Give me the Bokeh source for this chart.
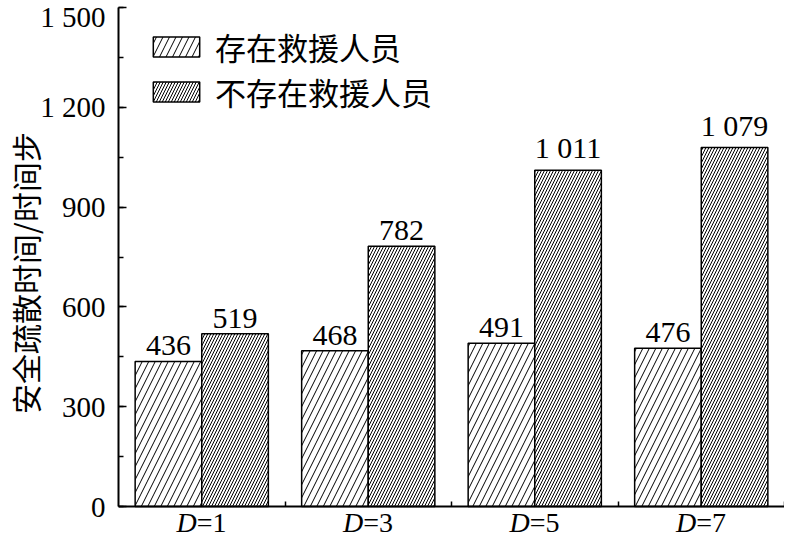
import numpy as np
from bokeh.plotting import figure
from bokeh.models import Range1d, FixedTicker, SingleIntervalTicker, ColumnDataSource
from bokeh.embed import file_html
from bokeh.resources import INLINE
from bokeh.core.properties import value

categories = ["D=1", "D=3", "D=5", "D=7"]
cat_var = ["D", "D", "D", "D"]
cat_val = ["=1", "=3", "=5", "=7"]
with_rescue = [436, 468, 491, 476]
without_rescue = [519, 782, 1011, 1079]
series_names = ["存在救援人员", "不存在救援人员"]
y_ticks = [0, 300, 600, 900, 1200, 1500]
y_tick_labels = ["0", "300", "600", "900", "1 200", "1 500"]
y_title = "安全疏散时间/时间步"

SERIF = "Liberation Serif"
CJK = "Noto Sans CJK SC"
W, H = 784, 541
LEFT = 115
FRAME_TOP = 7          # px from top where y = max
ZERO_Y = 506           # px from top where y = 0
BOTTOM_BORDER = 3
FRAME_BOTTOM = H - BOTTOM_BORDER


def fmt(v):
    return f"{v:,}".replace(",", " ")


n = len(categories)
centers = np.arange(n) + 0.5
bw = 0.4
ymin, ymax = y_ticks[0], y_ticks[-1]
below = (ymax - ymin) * (FRAME_BOTTOM - ZERO_Y) / (ZERO_Y - FRAME_TOP)

p = figure(width=W, height=H, output_backend="svg", toolbar_location=None,
           x_range=Range1d(0, n), y_range=Range1d(ymin - below, ymax),
           min_border_left=LEFT, min_border_right=0, min_border_top=FRAME_TOP,
           min_border_bottom=BOTTOM_BORDER)
p.outline_line_color = None
p.xgrid.visible = False
p.ygrid.visible = False

src1 = ColumnDataSource(dict(x=centers - bw / 2, top=with_rescue, lab=[fmt(v) for v in with_rescue]))
src2 = ColumnDataSource(dict(x=centers + bw / 2, top=without_rescue, lab=[fmt(v) for v in without_rescue]))

p.vbar(x="x", top="top", bottom=0, width=bw, source=src1, fill_color="white", line_color="black",
       line_width=1.5, hatch_pattern="/", hatch_color="black", hatch_weight=1, hatch_scale=13,
       legend_label=series_names[0])
p.vbar(x="x", top="top", bottom=0, width=bw, source=src2, fill_color="white", line_color="black",
       line_width=1.5, hatch_pattern="/", hatch_color="black", hatch_weight=1, hatch_scale=6,
       legend_label=series_names[1])

for s in (src1, src2):
    p.text(x="x", y="top", text="lab", source=s, text_align="center", text_baseline="bottom",
           y_offset=-6, text_font=value(SERIF), text_font_size="30px", text_color="black")

# y axis
ya = p.yaxis[0]
ya.bounds = (ymin, ymax)
ya.ticker = SingleIntervalTicker(interval=300, num_minor_ticks=2)
ya.major_label_overrides = {t: l for t, l in zip(y_ticks, y_tick_labels)}
ya.major_tick_in = 8
ya.major_tick_out = 0
ya.minor_tick_in = 5
ya.minor_tick_out = 0
ya.major_tick_line_width = 1.5
ya.minor_tick_line_width = 1.5
ya.axis_line_width = 2
ya.major_label_text_font = SERIF
ya.major_label_text_font_size = "29px"
ya.major_label_text_color = "black"
ya.major_label_standoff = 13
ya.axis_label = y_title
ya.axis_label_text_font = CJK
ya.axis_label_text_font_size = "30px"
ya.axis_label_text_font_style = "normal"
ya.axis_label_text_color = "black"
ya.axis_label_standoff = -10

# x axis at y = 0 (boundary ticks); category labels drawn just below it
xa = p.xaxis[0]
xa.fixed_location = 0
xa.ticker = FixedTicker(ticks=list(range(1, n + 1)))
xa.major_label_overrides = {t: "" for t in range(1, n + 1)}
xa.major_label_text_font_size = "1px"
xa.major_label_standoff = 0
xa.major_tick_in = 5
xa.major_tick_out = 0
xa.major_tick_line_width = 1.5
xa.minor_tick_line_color = None
xa.axis_line_width = 2

lsrc = ColumnDataSource(dict(x=centers, y=[0] * n, v=cat_var, val=cat_val))
lab_off = FRAME_BOTTOM - ZERO_Y - 1
p.text(x="x", y="y", text="v", source=lsrc, text_align="right", text_baseline="bottom",
       x_offset=-5, y_offset=lab_off, text_font=value(SERIF), text_font_size="28px",
       text_font_style="italic", text_color="black")
p.text(x="x", y="y", text="val", source=lsrc, text_align="left", text_baseline="bottom",
       x_offset=-5, y_offset=lab_off, text_font=value(SERIF), text_font_size="28px",
       text_color="black")

lg = p.legend[0]
lg.location = (29, FRAME_BOTTOM - 114)
lg.border_line_color = None
lg.background_fill_alpha = 0
lg.margin = 0
lg.padding = 0
lg.glyph_width = 58
lg.glyph_height = 25
lg.label_height = 25
lg.label_standoff = 10
lg.spacing = -5
lg.label_text_font = CJK
lg.label_text_font_size = "31px"
lg.label_text_color = "black"

open("out.html", "w").write(file_html(p, INLINE))
